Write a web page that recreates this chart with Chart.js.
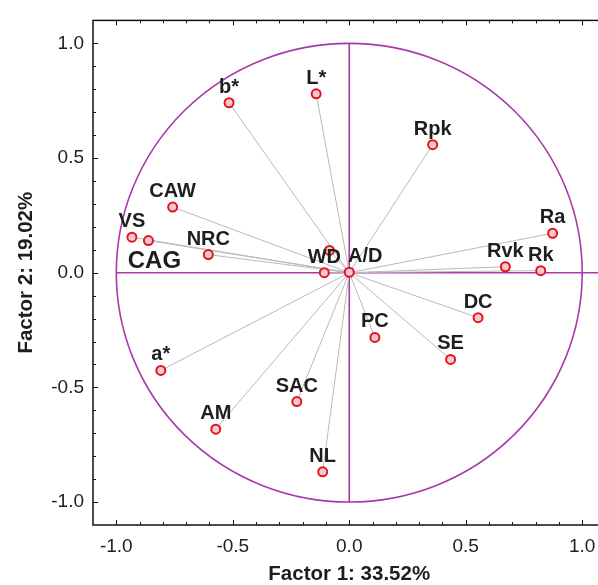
<!DOCTYPE html>
<html><head><meta charset="utf-8">
<script src="https://cdn.jsdelivr.net/npm/chart.js@4/dist/chart.umd.min.js"></script>
<style>
html,body{margin:0;padding:0;background:#fff;overflow:hidden;width:598px;height:585px}
#wrap{position:relative;width:612px;height:585px}
</style></head><body>
<div id="wrap"><canvas id="c" width="612" height="585"></canvas></div>
<script>
// ---- data (factor loadings) ----
const variables = ["b*","L*","CAW","VS","CAG","NRC","","WD","A/D","Rpk","Ra","Rvk","Rk","DC","PC","SE","a*","AM","SAC","NL"];
const factor1   = [-0.516,-0.142,-0.758,-0.933,-0.862,-0.605,-0.085,-0.107,0.000,0.358,0.873,0.670,0.822,0.553,0.110,0.435,-0.809,-0.573,-0.225,-0.114];
const factor2   = [0.741,0.780,0.286,0.155,0.140,0.079,0.097,0.000,0.002,0.558,0.172,0.026,0.009,-0.196,-0.282,-0.378,-0.426,-0.682,-0.562,-0.868];
const xTickValues = [-1.0,-0.5,0.0,0.5,1.0];
const yTickValues = [-1.0,-0.5,0.0,0.5,1.0];
const xTitle = "Factor 1: 33.52%";
const yTitle = "Factor 2: 19.02%";

// ---- styling ----
const MAGENTA = '#a83aa8';
const FONT = '"Liberation Sans", Arial, sans-serif';
const labelPlacement = { "A/D": {dx:16}, "CAG": {dx:6, dy:27, size:24} };

const lineSets = variables.map((v,i)=>({
  type:'scatter', showLine:true, data:[{x:0,y:0},{x:factor1[i],y:factor2[i]}],
  borderColor:'#b9b9b9', borderWidth:1, pointRadius:0, order:2
}));
const markerSet = {
  type:'scatter', data: variables.map((v,i)=>({x:factor1[i],y:factor2[i]})),
  pointRadius:4.5, pointBorderWidth:2, pointBorderColor:'#e3141f', pointBackgroundColor:'#f4c9d2', order:1
};

const decor = {
  id:'decor',
  beforeDatasetsDraw(chart){
    const {ctx, scales:{x,y}} = chart;
    const cx = x.getPixelForValue(0), cy = y.getPixelForValue(0);
    const rx = x.getPixelForValue(1)-cx, ry = cy-y.getPixelForValue(1);
    ctx.save();
    ctx.strokeStyle = MAGENTA; ctx.lineWidth = 1.6;
    ctx.beginPath(); ctx.ellipse(cx,cy,rx,ry,0,0,Math.PI*2); ctx.stroke();
    ctx.beginPath();
    ctx.moveTo(x.getPixelForValue(-1),cy); ctx.lineTo(x.getPixelForValue(1.1),cy);
    ctx.moveTo(cx,y.getPixelForValue(1)); ctx.lineTo(cx,y.getPixelForValue(-1));
    ctx.stroke();
    ctx.restore();
  },
  afterDatasetsDraw(chart){
    const {ctx, scales:{x,y}} = chart;
    ctx.save();
    ctx.fillStyle = '#1e1e1e';
    ctx.textAlign = 'center'; ctx.textBaseline = 'alphabetic';
    variables.forEach((name,i)=>{
      if(!name) return;
      const p = Object.assign({dx:0,dy:-10,size:20}, labelPlacement[name]||{});
      ctx.font = 'bold '+p.size+'px '+FONT;
      ctx.fillText(name, x.getPixelForValue(factor1[i])+p.dx, y.getPixelForValue(factor2[i])+p.dy);
    });
    ctx.restore();
  },
  afterDraw(chart){
    const {ctx, chartArea:a, scales:{x,y}} = chart;
    ctx.save();
    ctx.strokeStyle = '#111'; ctx.lineWidth = 1.5;
    ctx.strokeRect(a.left, a.top, a.right-a.left, a.bottom-a.top);
    ctx.lineWidth = 1;
    ctx.beginPath();
    for(let k=-10;k<=10;k++){
      const v = k/10, len = (k%5===0)?5:3;
      const px = Math.round(x.getPixelForValue(v))+0.5;
      ctx.moveTo(px,a.top); ctx.lineTo(px,a.top+len);
      ctx.moveTo(px,a.bottom); ctx.lineTo(px,a.bottom-len);
      const py = Math.round(y.getPixelForValue(v))+0.5;
      ctx.moveTo(a.left,py); ctx.lineTo(a.left+len,py);
      ctx.moveTo(a.right,py); ctx.lineTo(a.right-len,py);
    }
    ctx.stroke();
    ctx.restore();
  }
};

new Chart(document.getElementById('c'), {
  type:'scatter',
  data:{ datasets:[...lineSets, markerSet] },
  options:{
    responsive:false, animation:false, events:[],
    layout:{ padding:{top:11, right:5, left:0, bottom:0} },
    plugins:{ legend:{display:false}, tooltip:{enabled:false} },
    scales:{
      x:{ type:'linear', min:-1.1, max:1.1,
          afterBuildTicks:s=>{ s.ticks = xTickValues.map(v=>({value:v})); },
          afterFit:s=>{ s.height = 60; },
          grid:{display:false, drawTicks:false}, border:{display:false},
          ticks:{ padding:10, color:'#222', font:{family:FONT, size:19}, callback:v=>Number(v).toFixed(1) },
          title:{ display:true, text:xTitle, color:'#1e1e1e', font:{family:FONT, size:20.5, weight:'bold', lineHeight:1}, padding:{top:0,bottom:0} } },
      y:{ type:'linear', min:-1.1, max:1.1,
          afterBuildTicks:s=>{ s.ticks = yTickValues.map(v=>({value:v})); },
          afterFit:s=>{ s.width = 93; },
          grid:{display:false, drawTicks:false}, border:{display:false},
          ticks:{ padding:9, color:'#222', font:{family:FONT, size:19}, callback:v=>Number(v).toFixed(1) },
          title:{ display:true, text:yTitle, color:'#1e1e1e', font:{family:FONT, size:20.5, weight:'bold', lineHeight:1}, padding:{top:16,bottom:0} } }
    }
  },
  plugins:[decor]
});
</script>
</body></html>
